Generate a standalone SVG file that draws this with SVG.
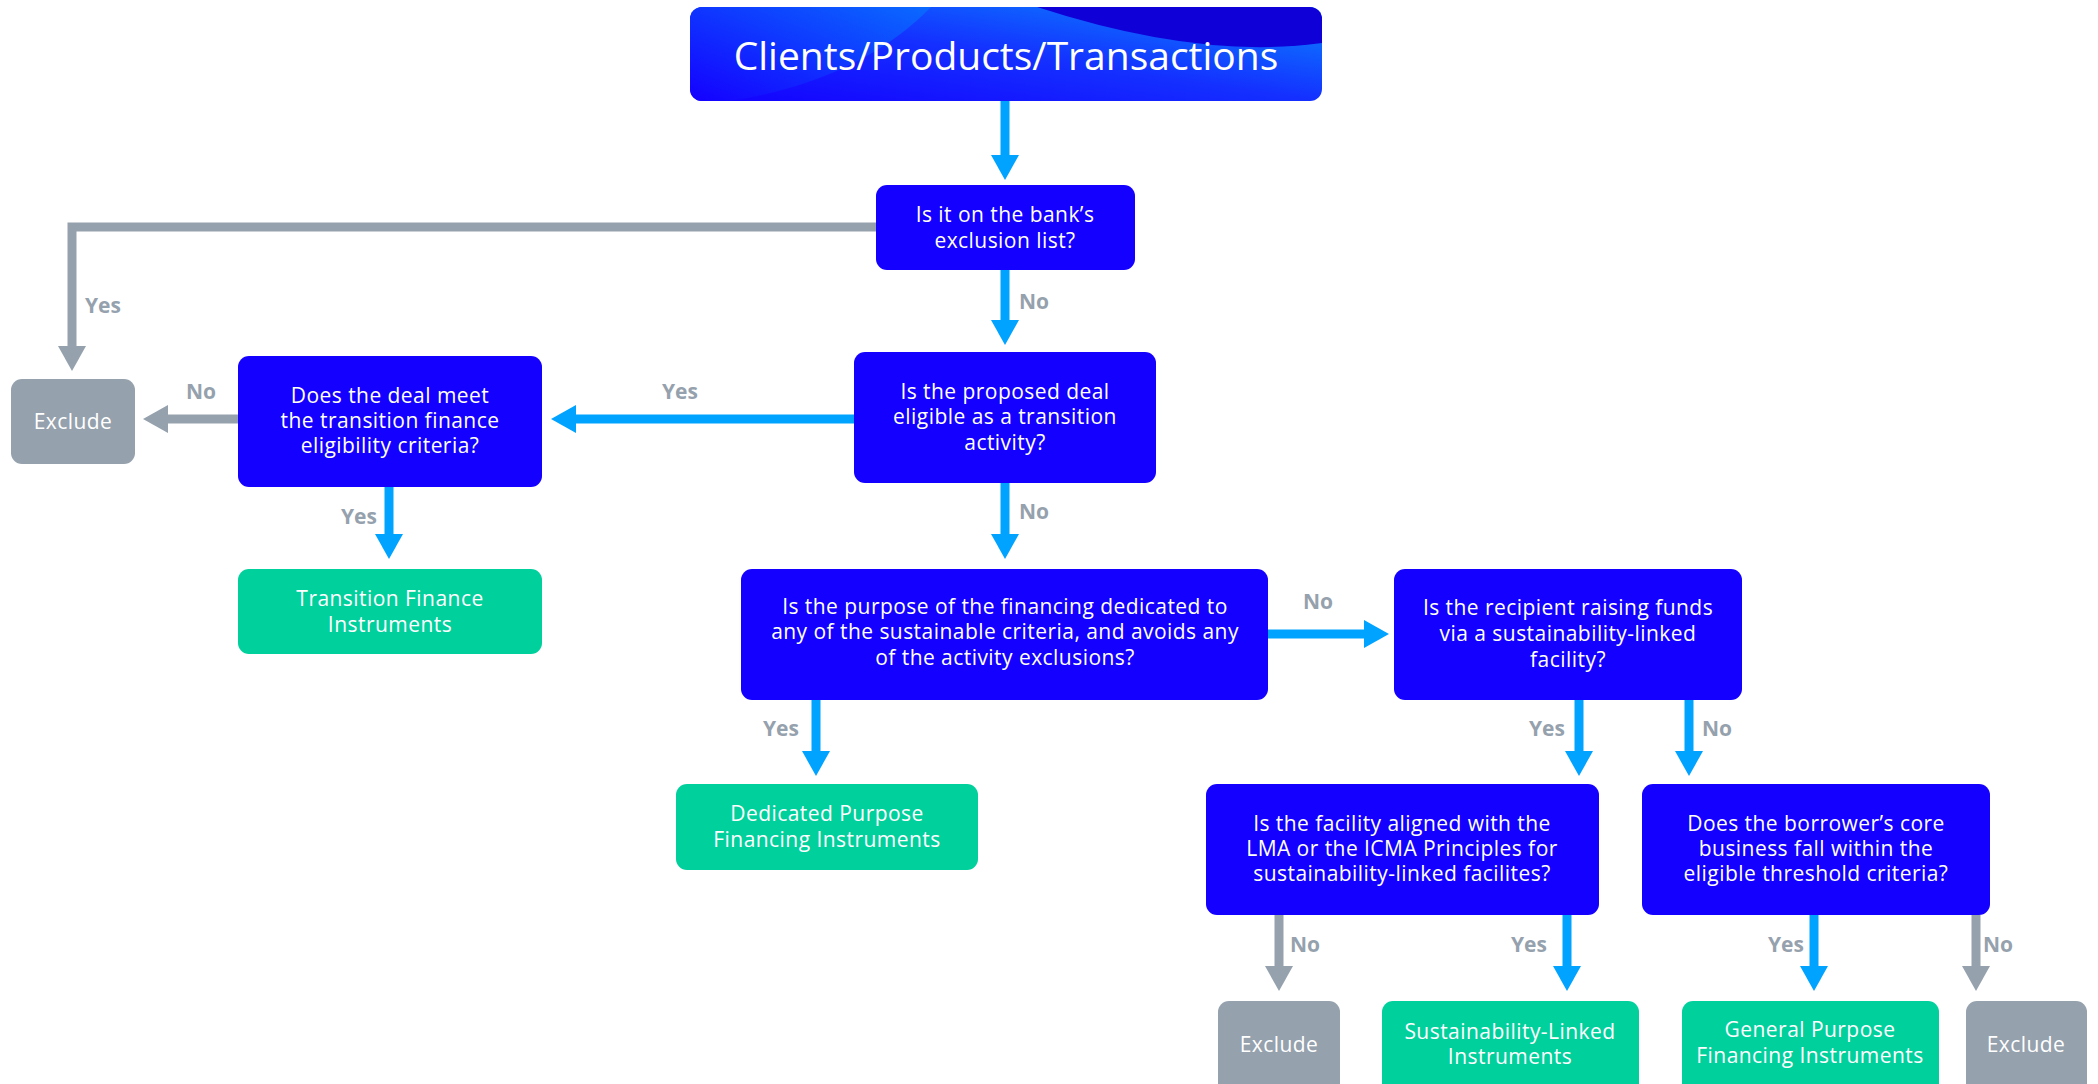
<svg xmlns="http://www.w3.org/2000/svg" width="2098" height="1084" viewBox="0 0 2098 1084">
<style>
.q{fill:#1400FF}
.g{fill:#00D09C}
.x{fill:#95A1AD}
.t{font-family:"Open Sans","Liberation Sans",sans-serif;font-size:21px;letter-spacing:0.45px;fill:#ffffff;text-anchor:middle}
.lb{font-family:"Open Sans","Liberation Sans",sans-serif;font-size:21px;font-weight:700;fill:#95A1AD;text-anchor:middle}
.b{stroke:#00A3FF;stroke-width:9;fill:none}
.gr{stroke:#95A1AD;stroke-width:9;fill:none}
</style>
<defs>
<marker id="ab" viewBox="0 0 25 28" refX="1" refY="14" markerWidth="25" markerHeight="28" markerUnits="userSpaceOnUse" orient="auto"><path d="M0,0 L25,14 L0,28 z" fill="#00A3FF"/></marker>
<marker id="ag" viewBox="0 0 25 28" refX="1" refY="14" markerWidth="25" markerHeight="28" markerUnits="userSpaceOnUse" orient="auto"><path d="M0,0 L25,14 L0,28 z" fill="#95A1AD"/></marker>
<linearGradient id="tg" x1="0" y1="1" x2="1" y2="0">
<stop offset="0" stop-color="#1400FF"/><stop offset="0.5" stop-color="#1430FF"/><stop offset="1" stop-color="#0A88FF"/>
</linearGradient>
<linearGradient id="lg" x1="0" y1="1" x2="1" y2="0">
<stop offset="0" stop-color="#1400FF"/><stop offset="1" stop-color="#0A6AFF"/>
</linearGradient>
<clipPath id="tc"><rect x="690" y="7" width="632" height="94" rx="12"/></clipPath>
</defs>
<rect width="2098" height="1084" fill="#ffffff"/>
<g id="connectors">
<line class="b" x1="1005" y1="100" x2="1005" y2="156" marker-end="url(#ab)"/>
<polyline class="gr" points="876,227 72,227 72,347" marker-end="url(#ag)"/>
<line class="b" x1="1005" y1="270" x2="1005" y2="321" marker-end="url(#ab)"/>
<line class="b" x1="854" y1="419" x2="575" y2="419" marker-end="url(#ab)"/>
<line class="gr" x1="238" y1="419" x2="167" y2="419" marker-end="url(#ag)"/>
<line class="b" x1="389" y1="487" x2="389" y2="535" marker-end="url(#ab)"/>
<line class="b" x1="1005" y1="483" x2="1005" y2="535" marker-end="url(#ab)"/>
<line class="b" x1="1268" y1="634" x2="1365" y2="634" marker-end="url(#ab)"/>
<line class="b" x1="816" y1="700" x2="816" y2="752" marker-end="url(#ab)"/>
<line class="b" x1="1579" y1="700" x2="1579" y2="752" marker-end="url(#ab)"/>
<line class="b" x1="1689" y1="700" x2="1689" y2="752" marker-end="url(#ab)"/>
<line class="gr" x1="1279" y1="915" x2="1279" y2="967" marker-end="url(#ag)"/>
<line class="b" x1="1567" y1="915" x2="1567" y2="967" marker-end="url(#ab)"/>
<line class="b" x1="1814" y1="915" x2="1814" y2="967" marker-end="url(#ab)"/>
<line class="gr" x1="1976" y1="915" x2="1976" y2="967" marker-end="url(#ag)"/>
<text class="lb" x="103" y="313">Yes</text>
<text class="lb" x="1034" y="309">No</text>
<text class="lb" x="680" y="399">Yes</text>
<text class="lb" x="201" y="399">No</text>
<text class="lb" x="359" y="524">Yes</text>
<text class="lb" x="1034" y="519">No</text>
<text class="lb" x="1318" y="609">No</text>
<text class="lb" x="781" y="736">Yes</text>
<text class="lb" x="1547" y="736">Yes</text>
<text class="lb" x="1717" y="736">No</text>
<text class="lb" x="1305" y="952">No</text>
<text class="lb" x="1529" y="952">Yes</text>
<text class="lb" x="1786" y="952">Yes</text>
<text class="lb" x="1998" y="952">No</text>
</g>
<g id="title">
<g clip-path="url(#tc)">
<rect x="690" y="7" width="632" height="94" fill="url(#tg)"/>
<path d="M690,7 L931,7 Q860,80 731,101 L690,101 z" fill="url(#lg)"/>
<path d="M1037,7 L1322,7 L1322,43 Q1200,60 1037,7 z" fill="#1000D8"/>
</g>
<text x="1006" y="70" font-family="'Open Sans','Liberation Sans',sans-serif" font-size="39" fill="#ffffff" text-anchor="middle">Clients/Products/Transactions</text>
</g>
<g id="q1"><rect class="q" x="876" y="185" width="259" height="85" rx="11"/>
<text class="t"><tspan x="1005" y="222">Is it on the bank’s</tspan><tspan x="1005" y="248">exclusion list?</tspan></text></g>
<g id="excl0"><rect class="x" x="11" y="379" width="124" height="85" rx="11"/>
<text class="t" x="73" y="429">Exclude</text></g>
<g id="q2"><rect class="q" x="854" y="352" width="302" height="131" rx="11"/>
<text class="t"><tspan x="1005" y="399">Is the proposed deal</tspan><tspan x="1005" y="424">eligible as a transition</tspan><tspan x="1005" y="450">activity?</tspan></text></g>
<g id="tf"><rect class="q" x="238" y="356" width="304" height="131" rx="11"/>
<text class="t"><tspan x="390" y="403">Does the deal meet</tspan><tspan x="390" y="428">the transition finance</tspan><tspan x="390" y="453">eligibility criteria?</tspan></text></g>
<g id="tfi"><rect class="g" x="238" y="569" width="304" height="85" rx="11"/>
<text class="t"><tspan x="390" y="606">Transition Finance</tspan><tspan x="390" y="632">Instruments</tspan></text></g>
<g id="q3"><rect class="q" x="741" y="569" width="527" height="131" rx="11"/>
<text class="t"><tspan x="1005" y="614">Is the purpose of the financing dedicated to</tspan><tspan x="1005" y="639">any of the sustainable criteria, and avoids any</tspan><tspan x="1005" y="665">of the activity exclusions?</tspan></text></g>
<g id="q4"><rect class="q" x="1394" y="569" width="348" height="131" rx="11"/>
<text class="t"><tspan x="1568" y="615">Is the recipient raising funds</tspan><tspan x="1568" y="641">via a sustainability-linked</tspan><tspan x="1568" y="667">facility?</tspan></text></g>
<g id="dpfi"><rect class="g" x="676" y="784" width="302" height="86" rx="11"/>
<text class="t"><tspan x="827" y="821">Dedicated Purpose</tspan><tspan x="827" y="847">Financing Instruments</tspan></text></g>
<g id="q5"><rect class="q" x="1206" y="784" width="393" height="131" rx="11"/>
<text class="t"><tspan x="1402" y="831">Is the facility aligned with the</tspan><tspan x="1402" y="856">LMA or the ICMA Principles for</tspan><tspan x="1402" y="881">sustainability-linked facilites?</tspan></text></g>
<g id="q6"><rect class="q" x="1642" y="784" width="348" height="131" rx="11"/>
<text class="t"><tspan x="1816" y="831">Does the borrower’s core</tspan><tspan x="1816" y="856">business fall within the</tspan><tspan x="1816" y="881">eligible threshold criteria?</tspan></text></g>
<g id="excl1"><rect class="x" x="1218" y="1001" width="122" height="95" rx="11"/>
<text class="t" x="1279" y="1052">Exclude</text></g>
<g id="sli"><rect class="g" x="1382" y="1001" width="257" height="95" rx="11"/>
<text class="t"><tspan x="1510" y="1039">Sustainability-Linked</tspan><tspan x="1510" y="1064">Instruments</tspan></text></g>
<g id="gpfi"><rect class="g" x="1682" y="1001" width="257" height="95" rx="11"/>
<text class="t"><tspan x="1810" y="1037">General Purpose</tspan><tspan x="1810" y="1063">Financing Instruments</tspan></text></g>
<g id="excl2"><rect class="x" x="1966" y="1001" width="121" height="95" rx="11"/>
<text class="t" x="2026" y="1052">Exclude</text></g>
</svg>
